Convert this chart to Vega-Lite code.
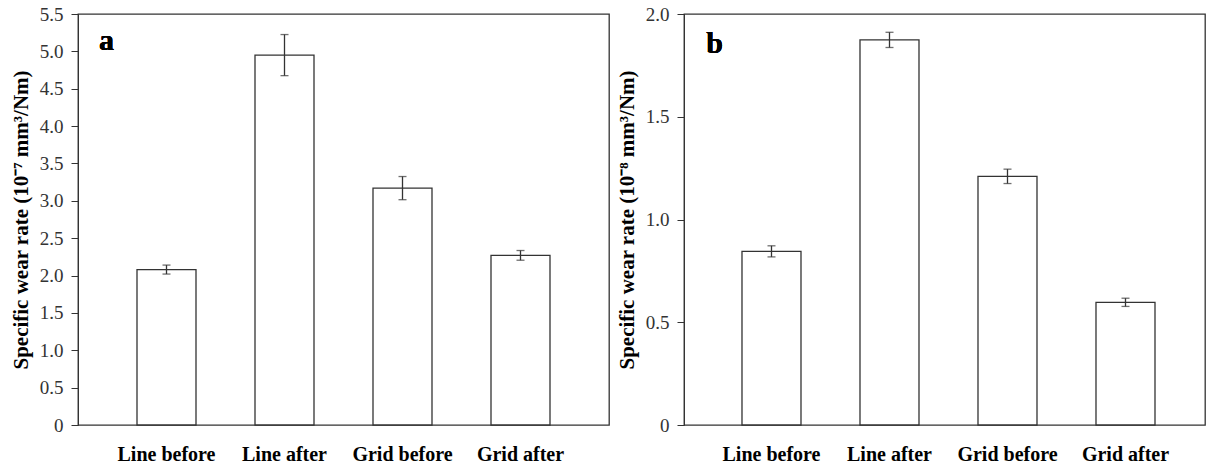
{
  "$schema": "https://vega.github.io/schema/vega-lite/v6.json",
  "background": "white",
  "padding": {"left": 9, "top": 4, "right": 0, "bottom": 0},
  "autosize": {"type": "pad"},
  "datasets": {
    "a": [
      {"category": "Line before", "value": 2.08, "err": 0.06},
      {"category": "Line after", "value": 4.95, "err": 0.275},
      {"category": "Grid before", "value": 3.17, "err": 0.155},
      {"category": "Grid after", "value": 2.27, "err": 0.065}
    ],
    "b": [
      {"category": "Line before", "value": 0.845, "err": 0.027},
      {"category": "Line after", "value": 1.874, "err": 0.037},
      {"category": "Grid before", "value": 1.21, "err": 0.035},
      {"category": "Grid after", "value": 0.597, "err": 0.02}
    ]
  },
  "config": {
    "font": "Liberation Serif",
    "view": {"stroke": "#333333", "strokeWidth": 1.3},
    "axis": {
      "domainColor": "#333333",
      "tickColor": "#333333",
      "grid": false,
      "labelOverlap": false,
      "labelFont": "Liberation Serif",
      "titleFont": "Liberation Serif"
    }
  },
  "spacing": 5,
  "hconcat": [
    {
      "width": 531,
      "height": 411,
      "data": {"name": "a"},
      "layer": [
        {
          "mark": {"type": "bar", "fill": "white", "stroke": "#333333", "strokeWidth": 1.3},
          "encoding": {
            "x": {"field": "category", "type": "nominal", "sort": null,
              "scale": {"paddingInner": 0.5, "paddingOuter": 0.5},
              "axis": {"title": null, "labelAngle": 0, "ticks": false, "labelFontSize": 20, "labelFontWeight": "bold", "labelColor": "#000000", "labelPadding": 19, "domain": false}},
            "y": {"field": "value", "type": "quantitative",
              "scale": {"domain": [0, 5.5], "nice": false},
              "axis": {"title": "Specific wear rate (10⁻⁷ mm³/Nm)", "values": [0, 0.5, 1, 1.5, 2, 2.5, 3, 3.5, 4, 4.5, 5, 5.5],
                "labelExpr": "datum.value == 0 ? '0' : format(datum.value, '.1f')",
                "labelFontSize": 19, "labelColor": "#333333", "tickSize": 7, "labelPadding": 8,
                "titleFontSize": 21, "titleFontWeight": "bold", "titleColor": "#000000", "titlePadding": 8}}
          }
        },
        {
          "mark": {"type": "errorbar", "ticks": {"size": 8, "thickness": 1.3, "color": "#333333"}, "rule": {"strokeWidth": 1.3, "color": "#333333"}},
          "encoding": {
            "x": {"field": "category", "type": "nominal", "sort": null},
            "y": {"field": "value", "type": "quantitative",
              "axis": {"title": "Specific wear rate (10⁻⁷ mm³/Nm)", "values": [0, 0.5, 1, 1.5, 2, 2.5, 3, 3.5, 4, 4.5, 5, 5.5],
                "labelExpr": "datum.value == 0 ? '0' : format(datum.value, '.1f')",
                "labelFontSize": 19, "labelColor": "#333333", "tickSize": 7, "labelPadding": 8,
                "titleFontSize": 21, "titleFontWeight": "bold", "titleColor": "#000000", "titlePadding": 8}},
            "yError": {"field": "err"}
          }
        },
        {
          "mark": {"type": "text", "text": "a", "fontSize": 30, "fontWeight": "bold", "color": "#000000", "baseline": "alphabetic", "align": "center", "dx": -60},
          "encoding": {
            "x": {"datum": "Line before"},
            "y": {"datum": 5.02,
              "axis": {"title": "Specific wear rate (10⁻⁷ mm³/Nm)", "values": [0, 0.5, 1, 1.5, 2, 2.5, 3, 3.5, 4, 4.5, 5, 5.5],
                "labelExpr": "datum.value == 0 ? '0' : format(datum.value, '.1f')",
                "labelFontSize": 19, "labelColor": "#333333", "tickSize": 7, "labelPadding": 8,
                "titleFontSize": 21, "titleFontWeight": "bold", "titleColor": "#000000", "titlePadding": 8}}
          }
        }
      ]
    },
    {
      "width": 521,
      "height": 411,
      "data": {"name": "b"},
      "layer": [
        {
          "mark": {"type": "bar", "fill": "white", "stroke": "#333333", "strokeWidth": 1.3},
          "encoding": {
            "x": {"field": "category", "type": "nominal", "sort": null,
              "scale": {"paddingInner": 0.5, "paddingOuter": 0.4576, "align": 0.537},
              "axis": {"title": null, "labelAngle": 0, "ticks": false, "labelFontSize": 20, "labelFontWeight": "bold", "labelColor": "#000000", "labelPadding": 19, "domain": false}},
            "y": {"field": "value", "type": "quantitative",
              "scale": {"domain": [0, 2], "nice": false},
              "axis": {"title": "Specific wear rate (10⁻⁸ mm³/Nm)", "values": [0, 0.5, 1, 1.5, 2],
                "labelExpr": "datum.value == 0 ? '0' : format(datum.value, '.1f')",
                "labelFontSize": 19, "labelColor": "#333333", "tickSize": 7, "labelPadding": 8,
                "titleFontSize": 21, "titleFontWeight": "bold", "titleColor": "#000000", "titlePadding": 8}}
          }
        },
        {
          "mark": {"type": "errorbar", "ticks": {"size": 8, "thickness": 1.3, "color": "#333333"}, "rule": {"strokeWidth": 1.3, "color": "#333333"}},
          "encoding": {
            "x": {"field": "category", "type": "nominal", "sort": null},
            "y": {"field": "value", "type": "quantitative",
              "axis": {"title": "Specific wear rate (10⁻⁸ mm³/Nm)", "values": [0, 0.5, 1, 1.5, 2],
                "labelExpr": "datum.value == 0 ? '0' : format(datum.value, '.1f')",
                "labelFontSize": 19, "labelColor": "#333333", "tickSize": 7, "labelPadding": 8,
                "titleFontSize": 21, "titleFontWeight": "bold", "titleColor": "#000000", "titlePadding": 8}},
            "yError": {"field": "err"}
          }
        },
        {
          "mark": {"type": "text", "text": "b", "fontSize": 30, "fontWeight": "bold", "color": "#000000", "baseline": "alphabetic", "align": "center", "dx": -57},
          "encoding": {
            "x": {"datum": "Line before"},
            "y": {"datum": 1.81,
              "axis": {"title": "Specific wear rate (10⁻⁸ mm³/Nm)", "values": [0, 0.5, 1, 1.5, 2],
                "labelExpr": "datum.value == 0 ? '0' : format(datum.value, '.1f')",
                "labelFontSize": 19, "labelColor": "#333333", "tickSize": 7, "labelPadding": 8,
                "titleFontSize": 21, "titleFontWeight": "bold", "titleColor": "#000000", "titlePadding": 8}}
          }
        }
      ]
    }
  ]
}
